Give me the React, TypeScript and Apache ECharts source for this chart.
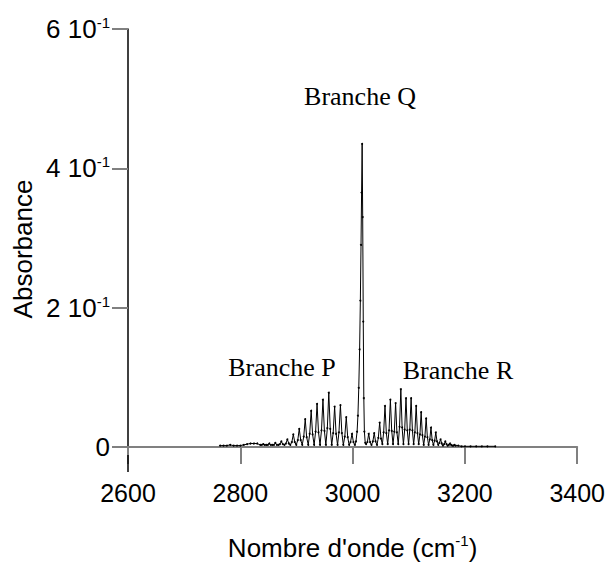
import React, { useEffect, useRef } from 'react';
import * as echarts from 'echarts';

// [wavenumber (cm-1), absorbance]
const pTail: [number, number][] = [
  [2764, 0.002], [2770, 0.002], [2776, 0.002], [2782, 0.003], [2788, 0.002],
  [2794, 0.002], [2800, 0.002], [2806, 0.003], [2812, 0.004], [2818, 0.005],
  [2824, 0.005], [2830, 0.005], [2835.5, 0.003],
];

const pBranch: [number, number][] = [
  [2838.2, 0.003], [2840.8, 0.004], [2843.4, 0.003], [2846.2, 0.003],
  [2849.0, 0.003], [2851.6, 0.005], [2854.2, 0.003], [2857.0, 0.003],
  [2859.8, 0.003], [2862.4, 0.006], [2865.0, 0.003], [2868.0, 0.003],
  [2870.5, 0.004], [2873.1, 0.008], [2875.7, 0.004], [2878.5, 0.003],
  [2881.2, 0.005], [2883.8, 0.011], [2886.4, 0.005], [2889.0, 0.003],
  [2891.8, 0.007], [2894.4, 0.018], [2897.0, 0.007], [2899.7, 0.003],
  [2902.4, 0.010], [2905.0, 0.026], [2907.6, 0.010], [2910.3, 0.003],
  [2913.0, 0.015], [2915.6, 0.040], [2918.2, 0.014], [2921.0, 0.003],
  [2923.6, 0.019], [2926.2, 0.052], [2928.8, 0.018], [2931.5, 0.003],
  [2934.1, 0.022], [2936.7, 0.062], [2939.3, 0.021], [2942.0, 0.003],
  [2944.6, 0.024], [2947.2, 0.068], [2949.8, 0.023], [2952.4, 0.003],
  [2955.0, 0.027], [2957.6, 0.078], [2960.2, 0.026], [2962.8, 0.003],
  [2965.4, 0.020], [2968.0, 0.058], [2970.6, 0.019], [2973.2, 0.003],
  [2975.7, 0.021], [2978.3, 0.060], [2980.9, 0.020], [2983.5, 0.003],
  [2986.1, 0.015], [2988.7, 0.043], [2991.3, 0.014], [2993.8, 0.003],
  [2996.3, 0.007], [2998.9, 0.019], [3001.5, 0.007], [3004.0, 0.003],
];

const qBranch: [number, number][] = [
  [3006.0, 0.008], [3008.0, 0.022], [3009.5, 0.045], [3011.0, 0.085],
  [3012.5, 0.140], [3013.8, 0.210], [3015.0, 0.290], [3016.0, 0.365],
  [3017.0, 0.435], [3018.0, 0.330], [3019.0, 0.180], [3020.0, 0.070],
  [3021.0, 0.022], [3022.5, 0.006], [3024.0, 0.004],
];

const rBranch: [number, number][] = [
  [3026.3, 0.007], [3028.7, 0.019], [3031.1, 0.007], [3033.6, 0.003],
  [3036.1, 0.008], [3038.5, 0.020], [3040.9, 0.008], [3043.4, 0.003],
  [3045.8, 0.013], [3048.2, 0.035], [3050.6, 0.012], [3053.0, 0.004],
  [3055.3, 0.021], [3057.7, 0.059], [3060.1, 0.020], [3062.5, 0.004],
  [3064.9, 0.024], [3067.3, 0.068], [3069.7, 0.023], [3072.0, 0.004],
  [3074.3, 0.022], [3076.6, 0.063], [3078.9, 0.021], [3081.3, 0.004],
  [3083.6, 0.029], [3085.9, 0.083], [3088.2, 0.028], [3090.5, 0.004],
  [3092.8, 0.025], [3095.1, 0.070], [3097.4, 0.024], [3099.7, 0.004],
  [3101.9, 0.025], [3104.2, 0.070], [3106.5, 0.024], [3108.7, 0.004],
  [3110.9, 0.021], [3113.2, 0.059], [3115.5, 0.020], [3117.7, 0.004],
  [3119.9, 0.018], [3122.1, 0.050], [3124.3, 0.017], [3126.6, 0.003],
  [3128.8, 0.015], [3131.0, 0.041], [3133.2, 0.014], [3135.3, 0.003],
  [3137.5, 0.011], [3139.6, 0.028], [3141.7, 0.010], [3143.9, 0.003],
  [3146.1, 0.009], [3148.2, 0.021], [3150.3, 0.008], [3152.5, 0.003],
  [3154.6, 0.006], [3156.7, 0.011], [3158.8, 0.005], [3160.9, 0.002],
  [3163.0, 0.004], [3165.1, 0.008], [3167.2, 0.004], [3169.2, 0.002],
  [3171.3, 0.003], [3173.3, 0.005], [3175.3, 0.003], [3177.4, 0.002],
  [3179.4, 0.002], [3181.4, 0.003], [3183.4, 0.002],
];

const rTail: [number, number][] = [
  [3188, 0.002], [3194, 0.001], [3200, 0.001], [3210, 0.001],
  [3220, 0.001], [3230, 0.001], [3240, 0.001], [3254, 0.001],
];

const xTickValues = [2600, 2800, 3000, 3200, 3400];
const xTickLabels = ['2600', '2800', '3000', '3200', '3400'];
const yTickValues = [0, 0.2, 0.4, 0.6];
const yTickMantissa = ['0', '2 10', '4 10', '6 10'];
const yTickExponent = ['', '-1', '-1', '-1'];

const annotations = [
  { text: 'Branche Q', x: 360, y: 96 },
  { text: 'Branche P', x: 282, y: 367 },
  { text: 'Branche R', x: 458, y: 370 },
];

const SANS = '"Liberation Sans", Arial, sans-serif';
const SERIF = '"Liberation Serif", "Times New Roman", serif';

export default function App() {
  const ref = useRef<HTMLDivElement>(null);

  useEffect(() => {
    const chart = echarts.init(ref.current!, null, { renderer: 'svg' });
    const data = [...pTail, ...pBranch, ...qBranch, ...rBranch, ...rTail];

    chart.setOption({
      animation: false,
      backgroundColor: '#fff',
      grid: { left: 128, right: 29, top: 29, bottom: 111, containLabel: false },
      xAxis: {
        type: 'value',
        min: 2600,
        max: 3400,
        interval: 200,
        axisLine: { show: true, onZero: false, lineStyle: { color: '#808080', width: 2 } },
        axisTick: { show: true, length: 17, lineStyle: { color: '#808080', width: 2 } },
        axisLabel: {
          fontFamily: SANS,
          fontSize: 25,
          color: '#000',
          margin: 33,
          formatter: (v: number) => {
            const i = xTickValues.findIndex((t) => Math.abs(t - v) < 1e-6);
            return i < 0 ? '' : xTickLabels[i];
          },
        },
        splitLine: { show: false },
        name: "{a|Nombre d'onde (cm}{s|-1}{a|)}",
        nameLocation: 'middle',
        nameGap: 86,
        nameTextStyle: {
          rich: {
            a: { fontFamily: SANS, fontSize: 26, color: '#000', lineHeight: 30 },
            s: { fontFamily: SANS, fontSize: 15, color: '#000', verticalAlign: 'top', lineHeight: 15 },
          },
        },
      },
      yAxis: {
        type: 'value',
        min: 0,
        max: 0.6,
        interval: 0.2,
        axisLine: { show: true, lineStyle: { color: '#000', width: 1.5 } },
        axisTick: { show: true, length: 16, lineStyle: { color: '#808080', width: 2 } },
        splitLine: { show: false },
        axisLabel: {
          margin: 18,
          formatter: (v: number) => {
            const i = yTickValues.findIndex((t) => Math.abs(t - v) < 1e-9);
            if (i < 0) return '';
            if (!yTickExponent[i]) return `{m|${yTickMantissa[i]}}`;
            return `{m|${yTickMantissa[i]}}{s|${yTickExponent[i]}}`;
          },
          rich: {
            m: { fontFamily: SANS, fontSize: 26, color: '#000', lineHeight: 28 },
            s: { fontFamily: SANS, fontSize: 15, color: '#000', verticalAlign: 'top', lineHeight: 15 },
          },
        },
      },
      graphic: [
        {
          type: 'line',
          shape: { x1: 128, y1: 455, x2: 128, y2: 472 },
          style: { stroke: '#000', lineWidth: 1.5 },
          z: 10,
        },
        {
          type: 'text',
          x: 23,
          y: 249,
          rotation: Math.PI / 2,
          style: {
            text: 'Absorbance',
            font: `26px ${SANS}`,
            fill: '#000',
            textAlign: 'center',
            align: 'center',
            textVerticalAlign: 'middle',
            verticalAlign: 'middle',
          },
        },
        ...annotations.map((a) => ({
          type: 'text',
          x: a.x,
          y: a.y,
          style: {
            text: a.text,
            font: `26px ${SERIF}`,
            fill: '#000',
            textAlign: 'center',
            align: 'center',
            textVerticalAlign: 'middle',
            verticalAlign: 'middle',
          },
        })),
      ],
      series: [
        {
          type: 'line',
          data,
          showSymbol: true,
          symbol: 'circle',
          symbolSize: 2,
          lineStyle: { color: '#000', width: 1 },
          itemStyle: { color: '#000' },
          z: 5,
        },
      ],
    });

    return () => chart.dispose();
  }, []);

  return (
    <div
      ref={ref}
      style={{ position: 'fixed', left: 0, top: 0, width: 608, height: 566, background: '#fff' }}
    />
  );
}
